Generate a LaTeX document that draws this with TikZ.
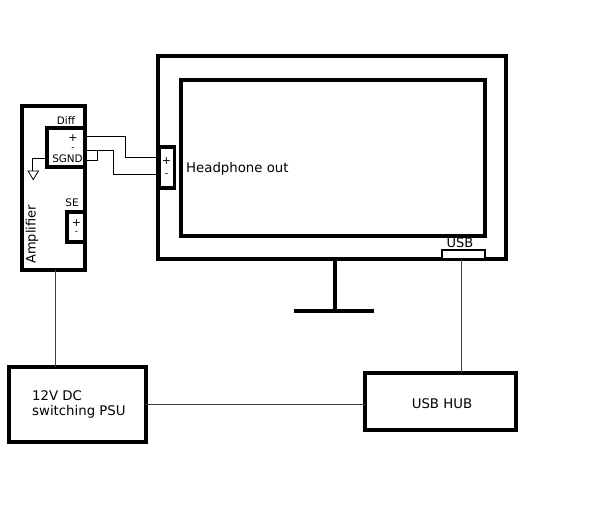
\documentclass[tikz,border=0pt]{standalone}
\usepackage{fontspec}
\setmainfont{DejaVu Sans}
\tikzset{
  box/.style={draw=black,fill=white,line width=3.8pt,inner sep=0pt,outer sep=0pt,minimum width=#1},
  wire/.style={draw=black,line width=0.8pt},
  grey wire/.style={draw=black!75,line width=0.9pt},
  lab/.style={inner sep=0pt,text=black,font=\fontsize{#1}{#1}\selectfont},
}
\begin{document}
\begin{tikzpicture}[x=1pt,y=-1pt]
\useasboundingbox (0,0) rectangle (594,531);
% monitor
\node[box=348pt,minimum height=203pt,anchor=north west] (monitor) at (158,56) {};
\node[box=304pt,minimum height=156pt,anchor=north west] (screen) at (181,80) {};
\coordinate (standtop) at (335,259);
\coordinate (standbase) at (335,311);
\coordinate (baseL) at (294,311);
\coordinate (baseR) at (374,311);
\draw[line width=3.4pt] (standtop) -- (standbase);
\draw[line width=3.4pt] (baseL) -- (baseR);
\node[box=43pt,minimum height=9pt,anchor=north west,line width=2.6pt] (usbport) at (442,250) {};
\node[lab=13] (usblabel) at (460,243) {USB};
\node[box=15pt,minimum height=41pt,anchor=north west] (jack) at (159.5,147) {};
\node[lab=11] (jackp) at (166.5,161.5) {+};
\node[lab=9.5] (jackm) at (166.5,175.5) {-};
\node[lab=13.3,anchor=west] (hp) at (186,169) {Headphone out};
% amplifier
\node[box=63pt,minimum height=164pt,anchor=north west] (amp) at (22,106) {};
\node[box=38pt,minimum height=39pt,anchor=north west] (diff) at (47,128) {};
\node[box=17.5pt,minimum height=30pt,anchor=north west] (se) at (67,212) {};
\node[lab=10.4] (difflabel) at (66,120.5) {Diff};
\node[lab=11] (diffp) at (73,138.5) {+};
\node[lab=9] (diffm) at (73,149.5) {-};
\node[lab=10.4] (sgnd) at (67.5,159) {SGND};
\node[lab=10.4] (selabel) at (72,202.5) {SE};
\node[lab=11] (sep) at (76.5,223.5) {+};
\node[lab=9] (sem) at (76.5,233.5) {-};
\node[lab=13,rotate=90] (amplabel) at (32,234.5) {Amplifier};
% supplies
\node[box=137pt,minimum height=75pt,anchor=north west] (psu) at (9,367) {};
\node[lab=13.3,align=left,anchor=west] (psulabel) at (32,404.5) {12V DC\\[2.5pt]switching PSU};
\node[box=151pt,minimum height=57pt,anchor=north west] (hub) at (365,373) {};
\node[lab=13.3] (hublabel) at (442,403.5) {USB HUB};
% power / usb connectors
\draw[grey wire] (amp.south -| 55,0) -- (psu.north -| 55,0);
\draw[grey wire] (psu.east |- 0,404) -- (hub.west |- 0,404);
\draw[grey wire] (usbport.south -| 461,0) -- (hub.north -| 461,0);
% audio wires
\coordinate (d1) at (86,136.7);
\coordinate (d2) at (86,150.7);
\coordinate (d3) at (86,160);
\coordinate (j1) at (157.5,157);
\coordinate (j2) at (157.5,174.3);
\draw[wire] (d1) -- (125.7,136.7) -- (125.7,157) -- (j1);
\draw[wire] (d2) -- (113.3,150.7) -- (113.3,174.3) -- (j2);
\draw[wire] (d2) -- (97.5,150.7) -- (97.5,160) -- (d3);
% ground
\coordinate (gt) at (32.8,171);
\draw[wire] (diff.west |- 0,158.3) -- (32.8,158.3) -- (gt);
\draw[wire,line join=miter] (28,171) -- (38.5,171) -- (33.2,179.5) -- cycle;
\end{tikzpicture}
\end{document}
